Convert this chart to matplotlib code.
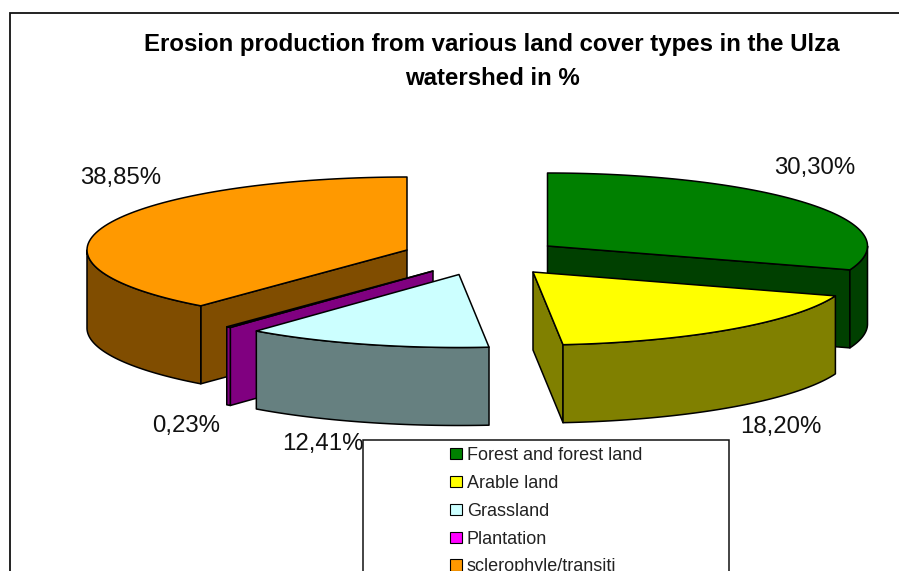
import numpy as np
import matplotlib
matplotlib.use("Agg")
import matplotlib.pyplot as plt
from matplotlib.patches import Polygon, Rectangle, Patch

categories = ["Forest and forest land", "Arable land", "Grassland", "Plantation", "sclerophyle/transiti"]
values = [30.30, 18.20, 12.41, 0.23, 38.85]
value_labels = ["30,30%", "18,20%", "12,41%", "0,23%", "38,85%"]
top_colors = ["#008000", "#FFFF00", "#CCFFFF", "#FF00FF", "#FF9900"]
side_colors = ["#004000", "#808000", "#668080", "#800080", "#804D00"]
title = "Erosion production from various land cover types in the Ulza\nwatershed in %"

# layout (pixels)
apexes = [(547.5, 246), (533, 272), (459, 274.5), (433, 271), (407, 250)]
label_pos = [(815, 168), (781, 427), (323, 444), (186, 426), (121, 178)]
RX, RY, DEPTH = 320, 73, 78
draw_order = [0, 4, 3, 1, 2]

plt.rcParams["font.family"] = ["Liberation Sans", "DejaVu Sans"]
fig = plt.figure(figsize=(8.99, 5.71), dpi=100)
ax = fig.add_axes([0, 0, 1, 1])
ax.set_xlim(0, 899)
ax.set_ylim(571, 0)
ax.axis("off")

ax.add_patch(Rectangle((9.5, 13), 950, 650, fc="white", ec="#111111", lw=1.3, zorder=0))

totals = np.cumsum(values) / np.sum(values) * 2 * np.pi
starts = np.concatenate([[0], totals[:-1]])
ends = totals


def rim(apex, a, b, n=80):
    t = np.linspace(a, b, n)
    return np.column_stack([apex[0] + RX * np.sin(t), apex[1] - RY * np.cos(t)])


z = 2
for i in draw_order:
    apex, a, b = apexes[i], starts[i], ends[i]
    down = np.array([0, DEPTH])
    style = dict(ec="black", lw=1.1, joinstyle="round")
    faces = []
    # cut faces that look towards the viewer
    if np.sin(a) < -1e-9:
        faces.append(a)
    if np.sin(b) > 1e-9:
        faces.append(b)
    for th in faces:
        p = rim(apex, th, th, 1)[0]
        q = np.array(apex, float)
        ax.add_patch(Polygon([q, p, p + down, q + down], fc=side_colors[i], zorder=z, **style))
        z += 1
    # outer rim visible between 90 and 270 degrees
    lo, hi = max(a, np.pi / 2), min(b, 3 * np.pi / 2)
    if hi > lo:
        arc = rim(apex, lo, hi)
        ax.add_patch(Polygon(np.vstack([arc, (arc + down)[::-1]]), fc=side_colors[i], zorder=z, **style))
        z += 1
    ax.add_patch(Polygon(np.vstack([[apex], rim(apex, a, b)]), fc=top_colors[i], zorder=z, **style))
    z += 1

for (x, y), s in zip(label_pos, value_labels):
    ax.text(x, y, s, ha="center", va="center", fontsize=17.3, color="#111111", zorder=30)

ax.text(492, 61.5, title, ha="center", va="center", fontsize=17.25, fontweight="bold",
        linespacing=1.6, color="black", zorder=30)

# legend
ax.add_patch(Rectangle((363, 440), 366, 200, fc="white", ec="#111111", lw=1.1, zorder=40))
handles = [Patch(fc=c, ec="black", lw=0.8) for c in top_colors]
leg = ax.legend(handles, categories, loc="upper left", bbox_to_anchor=(450, 447),
                bbox_transform=ax.transData, frameon=False, fontsize=13, borderpad=0,
                borderaxespad=0, labelspacing=0.6, handlelength=0.65, handleheight=0.58,
                handletextpad=0.29, labelcolor="#222222")
leg.set_zorder(50)

fig.savefig("out.png", dpi=100)
